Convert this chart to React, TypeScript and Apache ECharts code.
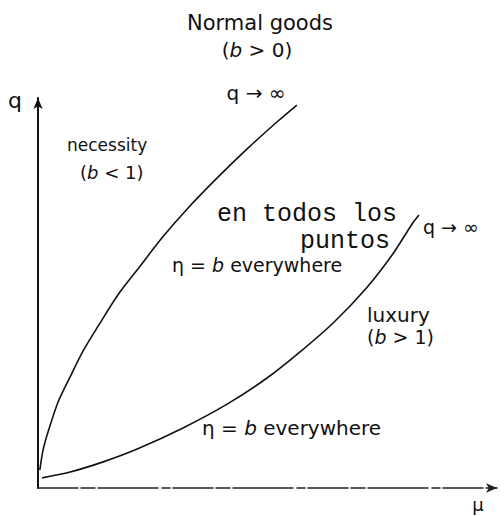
import React, { useEffect, useRef } from "react";
import * as echarts from "echarts";

// Income (μ) on the horizontal axis, quantity (q) on the vertical axis.
const necessityIncome = [0.4, 1.1, 2.2, 4.4, 7.0, 9.8, 13.1, 17.4, 21.8, 27.2, 32.7, 39.2, 45.8, 52.3, 56.4];
const necessityQty = [4.6, 9.7, 14.4, 22.1, 28.5, 35.1, 41.5, 49.5, 56.2, 64.4, 71.8, 79.7, 87.2, 94.1, 98.2];

const luxuryIncome = [0.9, 7.0, 14.2, 21.6, 31.6, 41.2, 49.9, 57.1, 64.3, 71.7, 77.3, 81.5, 83.0];
const luxuryQty = [2.6, 4.1, 6.7, 10.0, 15.4, 21.5, 28.2, 34.9, 42.3, 51.5, 60.0, 67.7, 70.0];

const axisMin = 0;
const axisMax = 100;

const SANS = "DejaVu Sans";
const MONO = "Liberation Mono";
const INK = "#111";

const pairs = (xs: number[], ys: number[]) => xs.map((x, i) => [x, ys[i]]);

const italicRich = (size: number) => ({
  i: { fontFamily: SANS, fontSize: size, fontStyle: "italic" as const, fill: INK },
});

const label = (
  x: number,
  y: number,
  text: string,
  size: number,
  align: "left" | "center" | "right" = "left",
  family = SANS
) => ({
  type: "text",
  x,
  y,
  style: {
    text,
    fontFamily: family,
    fontSize: size,
    fill: INK,
    align,
    verticalAlign: "middle",
    rich: italicRich(size),
  },
});

export default function App() {
  const ref = useRef<HTMLDivElement>(null);

  useEffect(() => {
    if (!ref.current) return;
    const chart = echarts.init(ref.current, null, { renderer: "svg" });
    chart.setOption({
      animation: false,
      backgroundColor: "#fff",
      grid: { left: 38, top: 98, right: 7, bottom: 28 },
      xAxis: {
        type: "value",
        min: axisMin,
        max: axisMax,
        axisLine: {
          show: true,
          symbol: ["none", "arrow"],
          symbolSize: [7, 11],
          lineStyle: { color: "#222", width: 1.5, type: [40, 3, 14, 3, 60, 4, 8, 3] },
        },
        axisTick: { show: false },
        axisLabel: { show: false },
        splitLine: { show: false },
      },
      yAxis: {
        type: "value",
        min: axisMin,
        max: axisMax,
        axisLine: {
          show: true,
          symbol: ["none", "arrow"],
          symbolSize: [7, 11],
          lineStyle: { color: INK, width: 2 },
        },
        axisTick: { show: false },
        axisLabel: { show: false },
        splitLine: { show: false },
      },
      series: [
        {
          name: "necessity",
          type: "line",
          data: pairs(necessityIncome, necessityQty),
          smooth: 0.3,
          showSymbol: false,
          lineStyle: { color: INK, width: 1.6 },
        },
        {
          name: "luxury",
          type: "line",
          data: pairs(luxuryIncome, luxuryQty),
          smooth: 0.3,
          showSymbol: false,
          lineStyle: { color: INK, width: 1.6 },
        },
      ],
      graphic: [
        label(260, 23, "Normal goods", 21, "center"),
        label(257, 50, "({i|b} > 0)", 20, "center"),
        label(256, 93, "q → ∞", 20, "center"),
        label(15, 100, "q", 22, "center"),
        label(67, 145, "necessity", 17),
        label(80, 172, "({i|b} < 1)", 18),
        label(217, 214, "en todos los", 25, "left", MONO),
        label(300, 241, "puntos", 25, "left", MONO),
        label(423, 227, "q → ∞", 19),
        label(172, 265, "η = {i|b} everywhere", 19),
        label(367, 315, "luxury", 20),
        label(367, 337, "({i|b} > 1)", 19),
        label(202, 428, "η = {i|b} everywhere", 20),
        label(478, 504, "μ", 18, "center"),
      ],
    });
    return () => chart.dispose();
  }, []);

  return (
    <div
      ref={ref}
      style={{ position: "fixed", left: 0, top: 0, width: 504, height: 516 }}
    />
  );
}
